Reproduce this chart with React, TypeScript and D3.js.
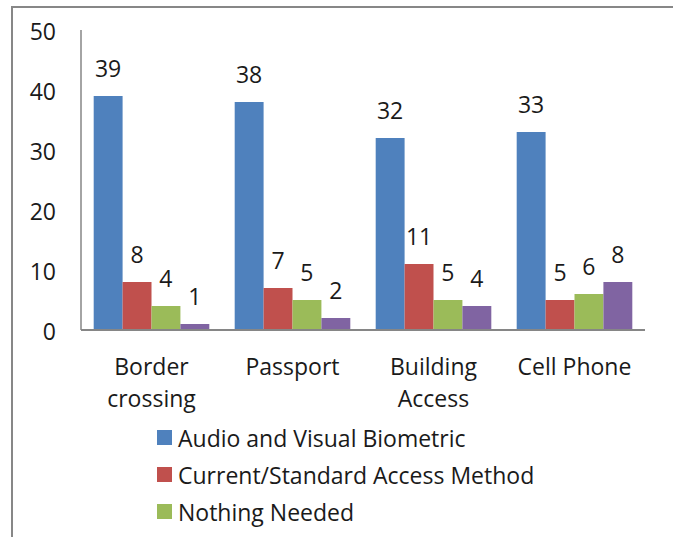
import React from "react";
import * as d3 from "d3";

const categories: string[][] = [["Border", "crossing"], ["Passport"], ["Building", "Access"], ["Cell Phone"]];
const categoryKeys = ["Border crossing", "Passport", "Building Access", "Cell Phone"];
const seriesNames = ["Audio and Visual Biometric", "Current/Standard Access Method", "Nothing Needed", "Other"];
const legendNames = ["Audio and Visual Biometric", "Current/Standard Access Method", "Nothing Needed"];
const audioVisual = [39, 38, 32, 33];
const currentStandard = [8, 7, 11, 5];
const nothingNeeded = [4, 5, 5, 6];
const other = [1, 2, 4, 8];
const yTicks = [0, 10, 20, 30, 40, 50];
const colors = ["#4F81BD", "#C0504D", "#9BBB59", "#8064A2"];

const seriesValues = [audioVisual, currentStandard, nothingNeeded, other];

export default function App() {
  const W = 673, H = 537;
  const font = "'Open Sans', Lato, sans-serif";
  const fs = 23;
  const y = d3.scaleLinear().domain([0, 50]).range([330, 30]);
  const x0 = d3.scaleBand<string>().domain(categoryKeys).range([81, 645]).paddingInner(0.18).paddingOuter(0.09);
  const x1 = d3.scaleBand<string>().domain(seriesNames).range([0, x0.bandwidth()]);
  const axisColor = "#868686";

  return (
    <svg width={W} height={H} style={{ position: "absolute", left: 0, top: 0, background: "#fff" }} fontFamily={font}>
      <rect x={12} y={7} width={W + 20} height={H + 20} fill="#fff" stroke="#878787" strokeWidth={2} />
      {/* y axis */}
      <line x1={81} x2={81} y1={y(50)} y2={y(0)} stroke={axisColor} strokeWidth={1.5} />
      {yTicks.map((t) => (
        <text key={t} x={56} y={y(t) + 10} textAnchor="end" fontSize={fs} fill="#1a1a1a">{t}</text>
      ))}
      {/* bars */}
      {categoryKeys.map((c, ci) => (
        <g key={c} transform={`translate(${x0(c)},0)`}>
          {seriesNames.map((s, si) => {
            const v = seriesValues[si][ci];
            const bx = x1(s)!;
            const bw = x1.bandwidth();
            return (
              <g key={s}>
                <rect x={bx} y={y(v)} width={bw} height={y(0) - y(v)} fill={colors[si]} />
                <text x={bx + bw / 2} y={y(v) - 19} textAnchor="middle" fontSize={fs} fill="#1a1a1a">{v}</text>
              </g>
            );
          })}
        </g>
      ))}
      {/* x axis */}
      <line x1={81} x2={645} y1={y(0)} y2={y(0)} stroke={axisColor} strokeWidth={2} />
      {categories.map((lines, ci) => (
        <text key={ci} textAnchor="middle" fontSize={fs} fill="#1a1a1a">
          {lines.map((l, li) => (
            <tspan key={li} x={x0(categoryKeys[ci])! + x0.bandwidth() / 2} y={375 + li * 32}>{l}</tspan>
          ))}
        </text>
      ))}
      {/* legend */}
      {legendNames.map((n, i) => (
        <g key={n} transform={`translate(157, ${430 + i * 37})`}>
          <rect x={0} y={0} width={15} height={15} fill={colors[i]} />
          <text x={21} y={17} fontSize={fs} fill="#1a1a1a">{n}</text>
        </g>
      ))}
    </svg>
  );
}
